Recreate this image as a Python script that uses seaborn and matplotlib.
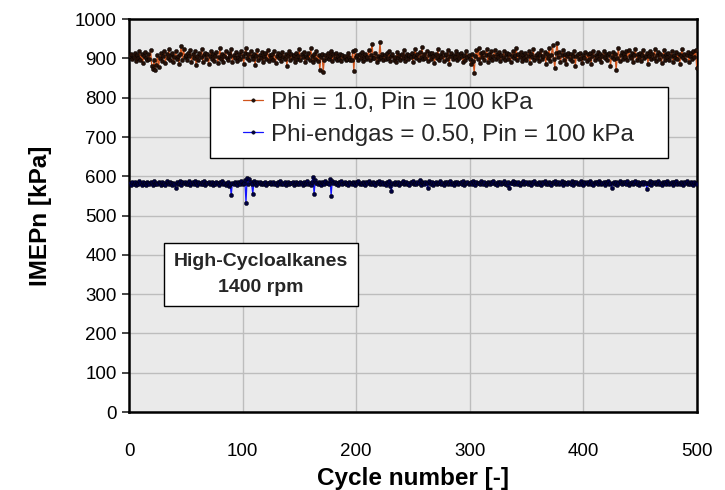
import numpy as np
import pandas as pd
import matplotlib
matplotlib.use("Agg")
import matplotlib.pyplot as plt
from matplotlib.patches import Rectangle
import seaborn as sns

label_a = "Phi = 1.0, Pin = 100 kPa"
label_b = "Phi-endgas = 0.50, Pin = 100 kPa"

imep_phi10 = [
    905, 912, 898, 903, 915, 893, 908, 900, 920, 897, 910, 888, 905, 916, 902, 895, 911, 899, 922, 881, 873, 896, 870, 884, 909,
    877, 902, 914, 893, 906, 919, 888, 910, 901, 925, 896, 908, 913, 891, 904, 918, 899, 907, 887, 912, 932, 895, 924, 903, 909,
    897, 915, 906, 921, 890, 911, 900, 918, 884, 907, 896, 913, 903, 925, 892, 908, 915, 899, 912, 886, 905, 920, 898, 910, 894,
    906, 917, 889, 903, 926, 898, 911, 892, 907, 919, 901, 896, 914, 905, 923, 890, 909, 900, 917, 893, 904, 912, 899, 920, 906,
    887, 915, 927, 902, 910, 895, 918, 905, 898, 912, 883, 907, 921, 896, 909, 901, 916, 890, 905, 913, 899, 922, 894, 908, 902,
    911, 896, 920, 888, 906, 915, 900, 909, 893, 917, 904, 898, 912, 881, 906, 919, 895, 910, 902, 908, 891, 914, 899, 905, 923,
    896, 910, 903, 917, 892, 907, 900, 914, 897, 926, 905, 890, 911, 899, 918, 894, 908, 870, 903, 912, 866, 897, 909, 901, 915,
    898, 906, 919, 893, 910, 902, 915, 896, 905, 899, 912, 893, 909, 901, 907, 895, 899, 913, 904, 897, 896, 918, 868, 921, 903,
    908, 895, 912, 901, 917, 893, 906, 911, 899, 904, 922, 896, 909, 937, 902, 900, 914, 891, 907, 898, 941, 903, 910, 895, 908,
    899, 913, 902, 919, 894, 907, 911, 897, 904, 890, 916, 901, 908, 896, 911, 900, 921, 893, 906, 912, 898, 909, 903, 915, 892,
    907, 925, 900, 911, 896, 917, 904, 929, 898, 910, 902, 920, 893, 908, 913, 899, 915, 905, 888, 912, 901, 924, 896, 909, 903,
    917, 894, 908, 912, 899, 921, 886, 905, 914, 898, 909, 903, 918, 895, 910, 900, 913, 907, 892, 908, 896, 920, 903, 909, 899,
    887, 911, 893, 864, 906, 921, 898, 927, 889, 914, 903, 917, 896, 908, 925, 891, 910, 902, 918, 895, 906, 922, 899, 911, 904,
    916, 893, 909, 902, 920, 896, 908, 914, 899, 911, 890, 906, 919, 901, 908, 926, 897, 912, 903, 917, 894, 909, 900, 915, 896,
    906, 918, 889, 911, 903, 924, 896, 909, 901, 915, 893, 908, 922, 898, 905, 917, 885, 911, 902, 927, 894, 908, 934, 899, 876,
    913, 940, 903, 917, 890, 908, 921, 897, 910, 886, 906, 915, 899, 912, 893, 907, 918, 881, 905, 911, 898, 914, 902, 889, 909,
    901, 916, 894, 910, 898, 913, 886, 907, 920, 895, 908, 903, 916, 899, 911, 892, 906, 919, 900, 912, 896, 909, 915, 881, 904,
    917, 898, 911, 871, 902, 927, 893, 908, 916, 899, 910, 904, 918, 895, 921, 906, 900, 913, 890, 908, 924, 897, 911, 903, 915,
    894, 909, 922, 900, 907, 913, 887, 905, 919, 898, 910, 902, 924, 893, 908, 916, 899, 912, 889, 906, 921, 897, 910, 904, 915,
    896, 907, 919, 891, 909, 902, 916, 898, 911, 885, 906, 923, 900, 912, 895, 908, 917, 890, 905, 913, 899, 920, 903, 921, 875,
]

imep_endgas050 = [
    583, 579, 585, 581, 586, 578, 584, 580, 587, 582, 579, 585, 581, 584, 578, 586, 582, 580, 585, 583, 579, 587, 581, 584, 580,
    585, 582, 578, 586, 581, 584, 579, 587, 583, 580, 585, 582, 578, 584, 581, 571, 586, 580, 583, 588, 579, 585, 582, 586, 580,
    584, 581, 587, 579, 583, 585, 580, 588, 582, 578, 586, 583, 580, 585, 581, 587, 579, 584, 582, 586, 580, 583, 585, 578, 584,
    581, 586, 583, 579, 585, 582, 587, 580, 584, 578, 583, 586, 575, 581, 552, 584, 580, 585, 582, 579, 586, 583, 581, 587, 580,
    584, 590, 533, 596, 581, 593, 585, 580, 555, 587, 583, 579, 585, 582, 586, 580, 584, 581, 583, 586, 579, 584, 582, 585, 580,
    583, 586, 581, 584, 579, 585, 582, 587, 580, 584, 581, 586, 578, 583, 585, 580, 584, 582, 586, 579, 583, 585, 581, 584, 580,
    586, 582, 579, 585, 581, 584, 587, 580, 583, 578, 586, 597, 555, 590, 584, 581, 586, 582, 579, 585, 583, 580, 587, 582, 584,
    580, 593, 551, 589, 583, 586, 581, 584, 579, 585, 582, 587, 580, 583, 586, 581, 584, 578, 585, 582, 580, 586, 583, 579, 585,
    582, 587, 580, 584, 581, 586, 583, 579, 585, 582, 588, 580, 584, 581, 586, 583, 578, 585, 582, 587, 580, 584, 586, 581, 583,
    579, 585, 582, 587, 576, 563, 584, 581, 586, 580, 583, 585, 579, 584, 582, 587, 580, 583, 586, 581, 584, 579, 585, 582, 588,
    580, 584, 581, 586, 583, 591, 579, 585, 582, 580, 586, 583, 569, 587, 584, 581, 585, 579, 583, 586, 580, 584, 582, 587, 581,
    584, 579, 585, 582, 586, 580, 583, 587, 581, 584, 578, 585, 582, 586, 580, 583, 585, 581, 587, 579, 584, 582, 586, 580, 583,
    585, 581, 588, 583, 579, 586, 582, 584, 580, 587, 583, 581, 585, 579, 584, 586, 582, 580, 585, 583, 587, 581, 584, 579, 586,
    582, 585, 580, 584, 587, 581, 583, 579, 586, 569, 584, 582, 588, 580, 585, 583, 581, 586, 579, 584, 582, 587, 580, 583, 585,
    581, 586, 583, 579, 585, 582, 588, 580, 584, 581, 586, 583, 578, 585, 582, 587, 580, 584, 581, 586, 583, 579, 585, 582, 588,
    580, 584, 586, 581, 583, 587, 579, 585, 582, 584, 580, 586, 583, 581, 588, 579, 585, 582, 586, 580, 584, 581, 587, 583, 579,
    585, 582, 586, 580, 584, 588, 581, 583, 579, 586, 582, 585, 580, 587, 583, 581, 584, 586, 579, 585, 582, 588, 580, 584, 570,
    583, 586, 581, 585, 579, 584, 587, 582, 580, 586, 583, 585, 581, 588, 579, 584, 582, 586, 580, 583, 587, 581, 585, 579, 584,
    582, 586, 580, 585, 583, 568, 584, 581, 587, 579, 585, 582, 586, 580, 584, 588, 581, 583, 579, 586, 582, 585, 580, 587, 583,
    581, 584, 586, 579, 585, 582, 588, 580, 584, 581, 586, 583, 579, 585, 582, 587, 580, 584, 581, 586, 583, 579, 585, 582, 580,
]

x_ticks = [0, 100, 200, 300, 400, 500]
y_ticks = [0, 100, 200, 300, 400, 500, 600, 700, 800, 900, 1000]
annot_text = "High-Cycloalkanes\n1400 rpm"

sns.set_style("white")
plt.rcParams["font.family"] = ["Liberation Sans", "DejaVu Sans"]

df_a = pd.DataFrame({"cycle": np.arange(1, len(imep_phi10) + 1), "imep": imep_phi10})
df_b = pd.DataFrame({"cycle": np.arange(1, len(imep_endgas050) + 1), "imep": imep_endgas050})

fig = plt.figure(figsize=(7.25, 4.9), dpi=100)
ax = fig.add_axes([0.178, 0.159, 0.783, 0.802])
ax.set_facecolor("#EAEAEA")

sns.lineplot(data=df_a, x="cycle", y="imep", ax=ax, color="#D0541C", linewidth=0.9,
             marker="o", markersize=3.0, markerfacecolor="#241008", markeredgecolor="#000000",
             markeredgewidth=0.3, label=label_a, zorder=3)
sns.lineplot(data=df_b, x="cycle", y="imep", ax=ax, color="#1414FF", linewidth=0.9,
             marker="o", markersize=3.0, markerfacecolor="#000040", markeredgecolor="#000000",
             markeredgewidth=0.3, label=label_b, zorder=3)

ax.set_xlim(0, 500)
ax.set_ylim(0, 1000)
ax.set_xticks(x_ticks)
ax.set_yticks(y_ticks)
ax.grid(True, color="#BDBDBD", linewidth=1.0, zorder=0)
ax.set_axisbelow(True)
for s in ax.spines.values():
    s.set_color("black")
    s.set_linewidth(1.8)

ax.tick_params(axis="y", direction="out", length=5, width=1.2, labelsize=13.5, pad=4, left=True,
               labelcolor="black")
ax.tick_params(axis="x", length=0, labelsize=13.5, pad=22, labelcolor="black")
ax.set_xlabel("Cycle number [-]", fontsize=17.5, fontweight="bold", labelpad=5, color="black")
ax.set_ylabel("IMEPn [kPa]", fontsize=17.5, fontweight="bold", labelpad=16, color="black")

# legend frame drawn as a rectangle in axes coordinates
ax.add_patch(Rectangle((0.1426, 0.646), 0.806, 0.181, transform=ax.transAxes,
                       facecolor="white", edgecolor="black", linewidth=1.0, zorder=4))
leg = ax.legend(loc="upper left", bbox_to_anchor=(0.200, 0.815), fontsize=17.5, frameon=False,
                handlelength=0.85, handletextpad=0.3, borderpad=0, labelspacing=0.4,
                borderaxespad=0)
leg.set_zorder(5)
for h in leg.legend_handles:
    h.set_markersize(2.5)

ax.text(116, 350, annot_text, fontsize=14, fontweight="bold", ha="center", va="center",
        linespacing=1.75,
        bbox=dict(boxstyle="square,pad=0.5", facecolor="white", edgecolor="black", linewidth=1.0),
        zorder=5)

fig.savefig("out.png", dpi=100)
